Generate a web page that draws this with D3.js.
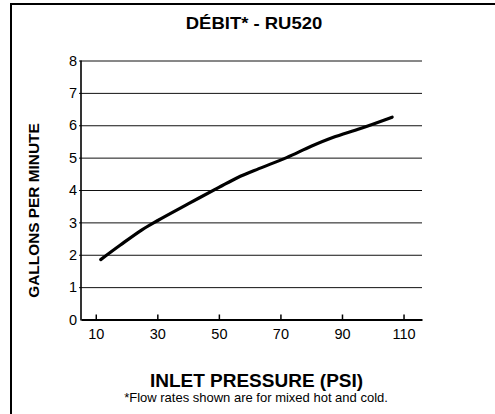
<!DOCTYPE html>
<html>
<head>
<meta charset="utf-8">
<script src="https://cdn.jsdelivr.net/npm/d3@7"></script>
<style>
  html, body { margin: 0; padding: 0; background: #fff; }
  svg { display: block; }
  text { font-family: "Liberation Sans", Arial, Helvetica, sans-serif; fill: #000; }
</style>
</head>
<body>
<svg id="chart" width="495" height="414"></svg>
<script>
const titleText = "DÉBIT* - RU520";
const xTitle = "INLET PRESSURE (PSI)";
const yTitle = "GALLONS PER MINUTE";
const footnote = "*Flow rates shown are for mixed hot and cold.";
const xTicks = [10, 30, 50, 70, 90, 110];
const yTicks = [0, 1, 2, 3, 4, 5, 6, 7, 8];
const psi = [11.6, 18, 25, 30, 40, 50, 56, 63, 72, 80, 87, 96, 106.3];
const gpm = [1.85, 2.3, 2.77, 3.05, 3.57, 4.08, 4.38, 4.66, 5.0, 5.35, 5.62, 5.9, 6.25];

const svg = d3.select("#chart");

// frame
svg.append("rect").attr("x", 11).attr("y", 4).attr("width", 520).attr("height", 440)
  .attr("fill", "none").attr("stroke", "#000").attr("stroke-width", 2);

const x = d3.scaleLinear().domain([5.2, 116]).range([81, 422]);
const y = d3.scaleLinear().domain([0, 8]).range([319.5, 60.5]);

// y gridlines + labels
const gy = svg.append("g").attr("transform", "translate(81,0)")
  .call(d3.axisLeft(y).tickValues(yTicks).tickSize(-341).tickSizeOuter(0).tickPadding(4).tickFormat(d3.format("d")));
gy.select(".domain").remove();
gy.selectAll(".tick line").attr("stroke", "#111").attr("stroke-width", 1).attr("x1", -2)
  .filter(d => d === 0).remove();
gy.selectAll(".tick text").attr("font-size", 14.5).attr("fill", "#000");

// x axis
const gx = svg.append("g").attr("transform", "translate(0,319.5)")
  .call(d3.axisBottom(x).tickValues(xTicks).tickSize(-5).tickSizeOuter(0).tickPadding(9.5));
gx.select(".domain").attr("stroke", "#000").attr("stroke-width", 2);
gx.selectAll(".tick line").attr("stroke", "#000").attr("stroke-width", 1.5);
gx.selectAll(".tick text").attr("font-size", 14.5).attr("fill", "#000");

// y axis line
svg.append("line").attr("x1", 81).attr("x2", 81).attr("y1", y(8)).attr("y2", y(0) + 1)
  .attr("stroke", "#000").attr("stroke-width", 1.6);

// curve
const pts = psi.map((p, i) => [p, gpm[i]]);
svg.append("path").datum(pts)
  .attr("fill", "none").attr("stroke", "#000").attr("stroke-width", 3.2)
  .attr("stroke-linecap", "round").attr("stroke-linejoin", "round")
  .attr("d", d3.line().x(d => x(d[0])).y(d => y(d[1])).curve(d3.curveCatmullRom.alpha(0.5)));

// title
svg.append("text").attr("transform", "translate(254,29) scale(1.12,1)")
  .attr("text-anchor", "middle").attr("font-weight", "bold").attr("font-size", 16.5)
  .text(titleText);

// y title
svg.append("text").attr("transform", "translate(38.5,210.5) rotate(-90)")
  .attr("text-anchor", "middle").attr("font-weight", "bold").attr("font-size", 15.4)
  .text(yTitle);

// x title
svg.append("text").attr("x", 256.5).attr("y", 387)
  .attr("text-anchor", "middle").attr("font-weight", "bold").attr("font-size", 19)
  .text(xTitle);

// footnote
svg.append("text").attr("x", 256).attr("y", 401.5)
  .attr("text-anchor", "middle").attr("font-size", 13)
  .text(footnote);
</script>
</body>
</html>
